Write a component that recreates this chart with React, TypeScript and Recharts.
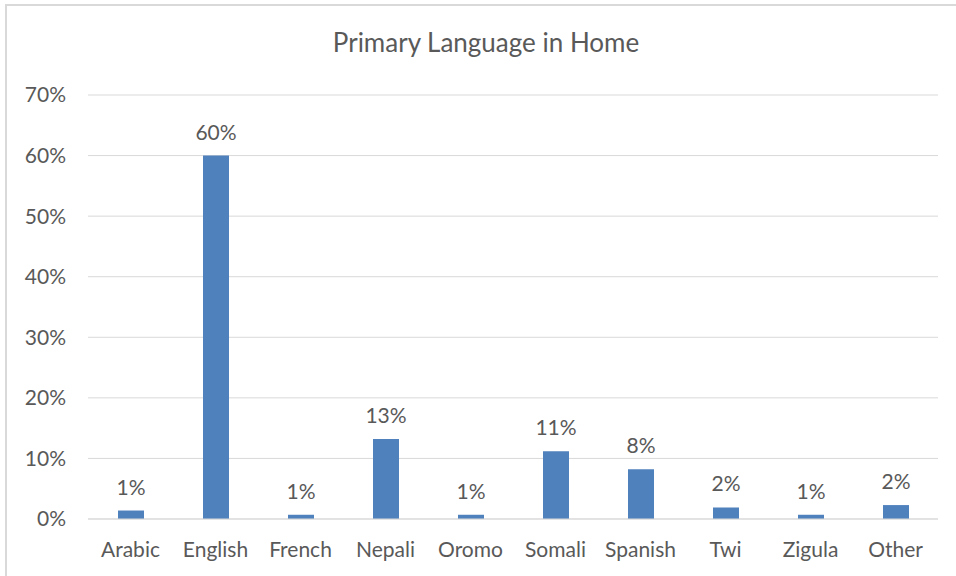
import React from "react";
import { BarChart, Bar, XAxis, YAxis, CartesianGrid, LabelList } from "recharts";

const languages = ["Arabic", "English", "French", "Nepali", "Oromo", "Somali", "Spanish", "Twi", "Zigula", "Other"];
const shares = [1.4, 60, 0.7, 13.2, 0.7, 11.2, 8.2, 1.9, 0.7, 2.3];
const yTicks = [0, 10, 20, 30, 40, 50, 60, 70];

const data = languages.map((lang, i) => ({ lang, value: shares[i] }));

const FONT = "Lato, 'Open Sans', sans-serif";
const TEXT = "#595959";

export default function App() {
    return (
        <div style={{ position: "absolute", left: 0, top: 0, width: 956, height: 576, background: "#fff", overflow: "hidden", fontFamily: FONT }}>
            {/* chart frame, cut off on the right and bottom */}
            <div style={{ position: "absolute", left: 5, top: 4, width: 980, height: 600, border: "2px solid #d9d9d9", boxSizing: "border-box" }} />
            <div style={{ position: "absolute", left: 0, top: 26, width: 972, textAlign: "center", fontSize: 26, color: TEXT }}>
                Primary Language in Home
            </div>
            <div style={{ position: "absolute", left: 0, top: 0 }}>
                <BarChart width={956} height={576} data={data} margin={{ top: 95, right: 18, bottom: 0, left: 0 }}>
                    <CartesianGrid vertical={false} stroke="#d9d9d9" />
                    <XAxis
                        dataKey="lang"
                        height={57}
                        tickSize={0}
                        tickMargin={23}
                        axisLine={{ stroke: "#d9d9d9" }}
                        tick={{ fill: TEXT, fontSize: 21, fontFamily: FONT }}
                        interval={0}
                    />
                    <YAxis
                        width={88}
                        domain={[0, 70]}
                        ticks={yTicks}
                        tickFormatter={(v: number) => `${v}%`}
                        axisLine={false}
                        tickSize={0}
                        tickMargin={22}
                        tick={{ fill: TEXT, fontSize: 21, fontFamily: FONT }}
                    />
                    <Bar dataKey="value" fill="#4f81bd" barSize={26} isAnimationActive={false}>
                        <LabelList
                            dataKey="value"
                            position="top"
                            offset={16}
                            formatter={(v: number) => `${Math.round(v)}%`}
                            style={{ fill: TEXT, fontSize: 21, fontFamily: FONT }}
                        />
                    </Bar>
                </BarChart>
            </div>
        </div>
    );
}
